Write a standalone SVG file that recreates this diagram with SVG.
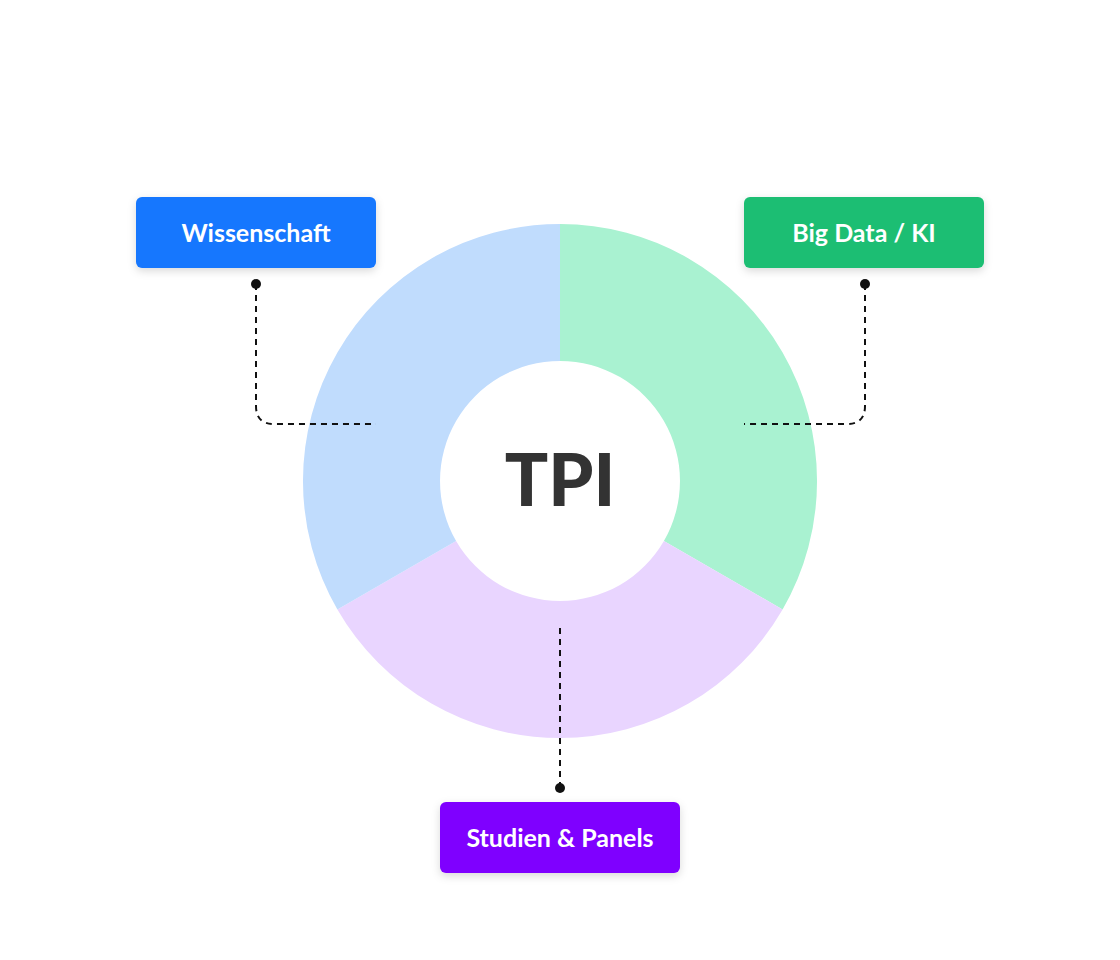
<svg xmlns="http://www.w3.org/2000/svg" width="1120" height="960" viewBox="0 0 1120 960">
<style>
.lbl{font-family:Lato,"Open Sans",sans-serif;font-weight:700;font-size:25px;fill:#fff;text-anchor:middle}
.con{fill:none;stroke:#111;stroke-width:2;stroke-dasharray:6 5}
</style>
<defs>
<filter id="sh" x="-20%" y="-30%" width="140%" height="170%"><feDropShadow dx="0" dy="3" stdDeviation="4" flood-color="#000" flood-opacity="0.15"/></filter>
</defs>
<rect width="1120" height="960" fill="#fff"/>
<g id="donut">
<path d="M560 224 A257 257 0 0 1 782.6 609.5 L663.9 541 A120 120 0 0 0 560 361 Z" fill="#A9F2D1"/>
<path d="M782.6 609.5 A257 257 0 0 1 337.4 609.5 L456.1 541 A120 120 0 0 0 663.9 541 Z" fill="#E9D5FF"/>
<path d="M337.4 609.5 A257 257 0 0 1 560 224 L560 361 A120 120 0 0 0 456.1 541 Z" fill="#C0DCFD"/>
<text x="560" y="506" font-family="Lato,sans-serif" font-weight="900" font-size="72" fill="#333" text-anchor="middle">TPI</text>
</g>
<g id="connectors">
<path class="con" d="M256 284 V406 Q256 424 274 424 H376"/>
<path class="con" d="M865 284 V406 Q865 424 847 424 H744"/>
<path class="con" d="M560 788 V626"/>
<circle cx="256" cy="284" r="5" fill="#111"/>
<circle cx="865" cy="284" r="5" fill="#111"/>
<circle cx="560" cy="788" r="5" fill="#111"/>
</g>
<g id="wissenschaft"><rect x="136" y="197" width="240" height="71" rx="6" fill="#1577FE" filter="url(#sh)"/><text class="lbl" x="256" y="242">Wissenschaft</text></g>
<g id="bigdata"><rect x="744" y="197" width="240" height="71" rx="6" fill="#1DBE73" filter="url(#sh)"/><text class="lbl" x="864" y="242">Big Data / KI</text></g>
<g id="studien"><rect x="440" y="802" width="240" height="71" rx="6" fill="#7F00FF" filter="url(#sh)"/><text class="lbl" x="560" y="847">Studien &amp; Panels</text></g>
</svg>
